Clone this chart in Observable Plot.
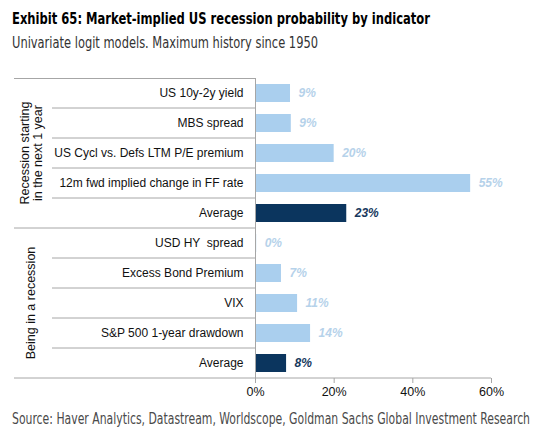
<!DOCTYPE html>
<html><head><meta charset="utf-8">
<script src="https://cdn.jsdelivr.net/npm/d3@7"></script>
<script src="https://cdn.jsdelivr.net/npm/@observablehq/plot@0.6"></script>
<style>
body{margin:0;background:#fff;}
#wrap{position:relative;width:545px;height:428px;overflow:hidden;background:#fff;}
.t{position:absolute;left:12px;white-space:nowrap;transform-origin:0 0;font-family:"Liberation Sans Narrow","DejaVu Sans Condensed","Liberation Sans",sans-serif;}
#title{top:9px;font-size:16px;font-weight:bold;color:#000;line-height:20px;}
#subtitle{top:33px;font-size:15px;color:#333;line-height:20px;}
#caption{top:409px;font-size:15px;color:#4a4a4a;line-height:20px;}
#chart{position:absolute;left:0;top:60px;}
</style></head>
<body>
<div id="wrap">
  <div class="t" id="title" data-w="418">Exhibit 65: Market-implied US recession probability by indicator</div>
  <div class="t" id="subtitle" data-w="306">Univariate logit models. Maximum history since 1950</div>
  <div id="chart"></div>
  <div class="t" id="caption" data-w="518">Source: Haver Analytics, Datastream, Worldscope, Goldman Sachs Global Investment Research</div>
</div>
<script>
const labels = ["US 10y-2y yield", "MBS spread", "US Cycl vs. Defs LTM P/E premium", "12m fwd implied change in FF rate", "Average",
                "USD HY  spread", "Excess Bond Premium", "VIX", "S&P 500 1-year drawdown", "Average"];
const values = [8.9, 9.1, 20.0, 54.7, 23.2, 0.3, 6.6, 10.7, 14.0, 7.9];
const valueLabels = ["9%", "9%", "20%", "55%", "23%", "0%", "7%", "11%", "14%", "8%"];
const groupOf = [0, 0, 0, 0, 0, 1, 1, 1, 1, 1];
const groupNames = [["Recession starting", "in the next 1 year"], ["Being in a recession"]];
const xTicks = [0, 20, 40, 60];

const LIGHT = "#aacfee", DARK = "#0b355e", LIGHT_TXT = "#b6d2ea", DARK_TXT = "#17385d", LINE = "#a6a6a6";

const rows = labels.map((label, i) => ({id: i, label, value: values[i], text: valueLabels[i], group: groupOf[i], avg: label === "Average"}));

function frame(index, scales, channels, dims) {
  const {x, y} = scales;
  const bw = y.bandwidth();
  const top = dims.marginTop, bottom = dims.height - dims.marginBottom;
  const x0 = x(0);
  const g = d3.create("svg:g");
  const ids = rows.map(r => r.id);
  for (let i = 0; i < ids.length - 1; i++) {
    const yy = (y(ids[i]) + bw + y(ids[i + 1])) / 2;
    const groupBreak = rows[i].group !== rows[i + 1].group;
    g.append("line").attr("x1", groupBreak ? 14 : 52).attr("x2", x0)
      .attr("y1", yy).attr("y2", yy).attr("stroke", LINE);
  }
  g.append("line").attr("x1", 14).attr("x2", x0).attr("y1", top + 0.5).attr("y2", top + 0.5).attr("stroke", LINE);
  g.append("line").attr("x1", 14).attr("x2", x(xTicks[xTicks.length - 1])).attr("y1", bottom).attr("y2", bottom).attr("stroke", LINE);
  groupNames.forEach((lines, gi) => {
    const members = rows.filter(r => r.group === gi);
    const cy = (y(members[0].id) + y(members[members.length - 1].id) + bw) / 2;
    const cx = 31;
    const t = g.append("text").attr("transform", `translate(${cx},${cy}) rotate(-90)`)
      .attr("text-anchor", "middle").attr("font-size", 12.5).attr("fill", "#111");
    lines.forEach((ln, li) => {
      t.append("tspan").attr("x", 0).attr("dy", li === 0 ? (lines.length === 1 ? "0.35em" : "-0.15em") : "1.0em").text(ln);
    });
  });
  return g.node();
}

const plot = Plot.plot({
  width: 545,
  height: 340,
  marginTop: 18,
  marginBottom: 22,
  marginLeft: 255,
  marginRight: 54,
  style: {fontFamily: "'Liberation Sans', Arial, sans-serif", fontSize: "12px", background: "#fff", color: "#111"},
  x: {domain: [0, 60], axis: null},
  y: {type: "band", domain: rows.map(r => r.id), paddingInner: 0.4, paddingOuter: 0.2, axis: null},
  marks: [
    Plot.barX(rows, {x: "value", y: "id", fill: d => d.avg ? DARK : LIGHT}),
    Plot.ruleX([0], {stroke: LINE}),
    frame,
    Plot.text(rows, {x: 0, y: "id", text: "label", textAnchor: "end", dx: -12, fontSize: 12, fill: "#111"}),
    Plot.text(rows, {x: "value", y: "id", text: "text", textAnchor: "start", dx: 8, fontSize: 12, fontWeight: "bold", fontStyle: "italic", fill: d => d.avg ? DARK_TXT : LIGHT_TXT}),
    Plot.axisX(xTicks, {tickFormat: d => d + "%", tickSize: 5, tickPadding: 4, stroke: LINE, fill: "#111", fontSize: 12.5, label: null})
  ]
});
document.getElementById("chart").appendChild(plot);

document.querySelectorAll(".t").forEach(el => {
  const target = +el.dataset.w;
  const w = el.getBoundingClientRect().width;
  if (w > 0) el.style.transform = `scaleX(${target / w})`;
});
</script>
</body></html>
